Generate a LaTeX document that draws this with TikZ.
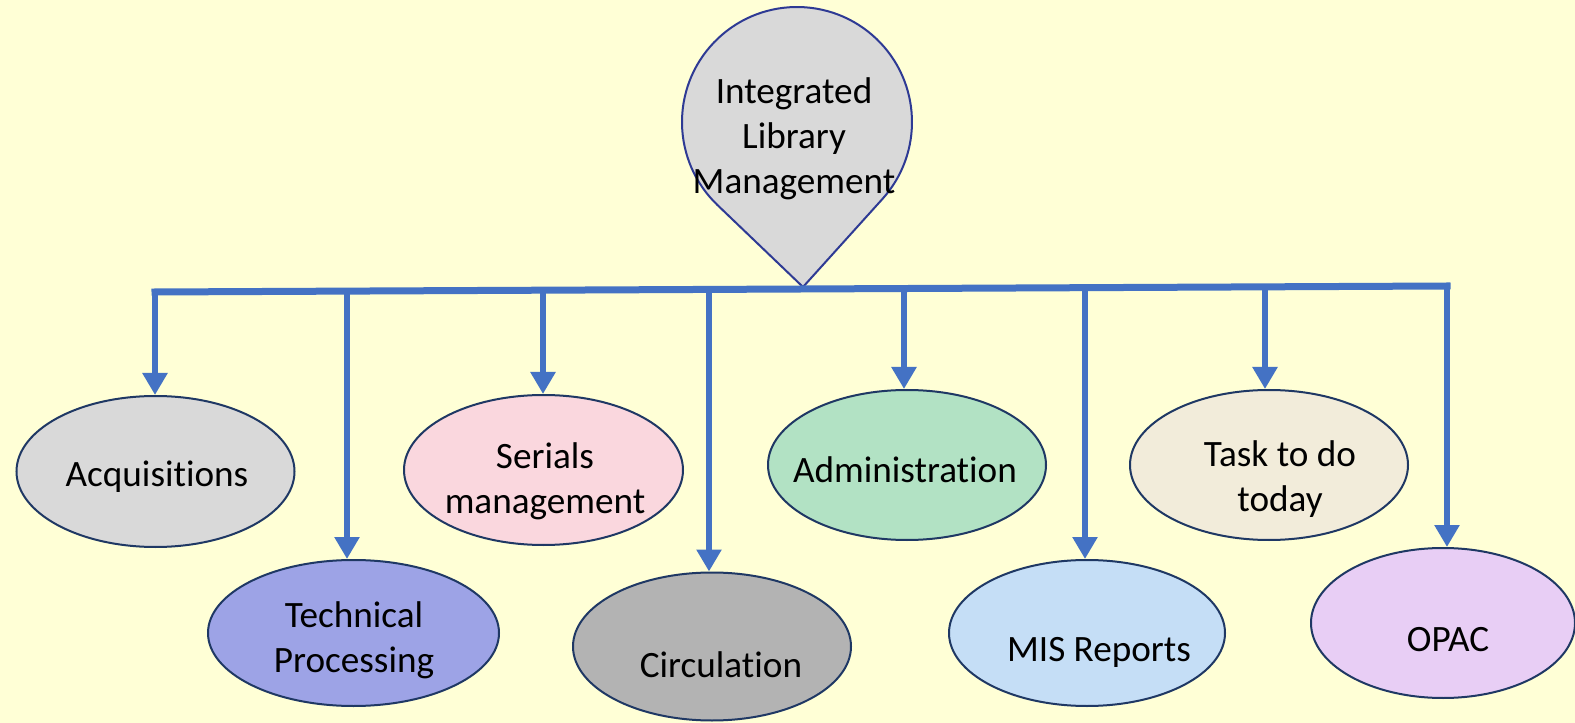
\documentclass[tikz,border=0pt]{standalone}
\usepackage{fontspec}
\setmainfont{Carlito}[Ligatures=CommonOff]
\usetikzlibrary{shapes.geometric,arrows.meta}
\definecolor{bg}{HTML}{FFFFD6}
\definecolor{arrowblue}{HTML}{4472C4}
\definecolor{edge}{HTML}{1F3864}
\definecolor{pinedge}{HTML}{2E3A94}
\definecolor{cacq}{HTML}{D9D9D9}
\definecolor{ctech}{HTML}{9DA3E6}
\definecolor{cser}{HTML}{FAD7DE}
\definecolor{ccirc}{HTML}{B3B3B3}
\definecolor{cadm}{HTML}{B2E2C4}
\definecolor{cmis}{HTML}{C5DEF6}
\definecolor{ctask}{HTML}{F2ECDA}
\definecolor{copac}{HTML}{E8CEF5}
\begin{document}
\begin{tikzpicture}[x=0.75pt,y=0.75pt,
  ell/.style={ellipse,draw=edge,line width=1.5pt,inner sep=0pt},
  txt/.style={align=center,font=\fontsize{27.9}{33.7}\selectfont,text=black,inner sep=0pt},
  bar/.style={draw=arrowblue,line width=5.25pt,line cap=rect},
  arr/.style={draw=arrowblue,line width=4.5pt,-{Triangle[width=18pt,length=16.5pt]}}]
\fill[bg] (0,0) rectangle (1575,-723);
\useasboundingbox (0,0) rectangle (1575,-723);

% pin
\fill[cacq,draw=pinedge,line width=1.5pt] (803,-287) -- (717.5,-205.1)
  arc[start angle=226.27,end angle=-42.05,radius=86.25pt] -- cycle;
\node[txt] (ilm) at (794,-139) {Integrated\\Library\\Management};

% ellipses
\node[ell,fill=cacq,minimum width=208.5pt,minimum height=113.25pt] (acq) at (155.5,-471.5) {};
\node[ell,fill=ctech,minimum width=218.25pt,minimum height=109.5pt] (tp) at (353.5,-633) {};
\node[ell,fill=cser,minimum width=209.25pt,minimum height=112.5pt] (ser) at (543.5,-470) {};
\node[ell,fill=ccirc,minimum width=208.5pt,minimum height=111pt] (circ) at (712,-646.5) {};
\node[ell,fill=cadm,minimum width=208.5pt,minimum height=112.5pt] (adm) at (907,-465) {};
\node[ell,fill=cmis,minimum width=207pt,minimum height=109.5pt] (mis) at (1087,-633) {};
\node[ell,fill=ctask,minimum width=208.5pt,minimum height=112.5pt] (task) at (1269,-465) {};
\node[ell,fill=copac,minimum width=198pt,minimum height=112.5pt] (opac) at (1443,-623) {};

\node[txt] (acqT) at (157,-477) {Acquisitions};
\node[txt] (tpT) at (354,-640) {Technical\\Processing};
\node[txt] (serT) at (545,-481) {Serials\\management};
\node[txt] (circT) at (721,-665) {Circulation};
\node[txt] (admT) at (905,-470) {Administration};
\node[txt] (misT) at (1099,-652) {MIS Reports};
\node[txt] (taskT) at (1280,-479) {Task to do\\today};
\node[txt] (opacT) at (1448,-640) {OPAC};

% bar
\coordinate (b1) at (155,-292);
\coordinate (b2) at (347,-291.1);
\coordinate (b3) at (543,-290.2);
\coordinate (b4) at (709,-289.4);
\coordinate (b5) at (904,-288.5);
\coordinate (b6) at (1085,-287.7);
\coordinate (b7) at (1265,-286.8);
\coordinate (b8) at (1447,-286);
\draw[bar] (b1) -- (b8);

\draw[arr] (b1) -- (b1 |- acq.north);
\draw[arr] (b2) -- (b2 |- tp.north);
\draw[arr] (b3) -- (b3 |- ser.north);
\draw[arr] (b4) -- (b4 |- circ.north);
\draw[arr] (b5) -- (b5 |- adm.north);
\draw[arr] (b6) -- (b6 |- mis.north);
\draw[arr] (b7) -- (b7 |- task.north);
\draw[arr] (b8) -- (b8 |- opac.north);
\end{tikzpicture}
\end{document}
